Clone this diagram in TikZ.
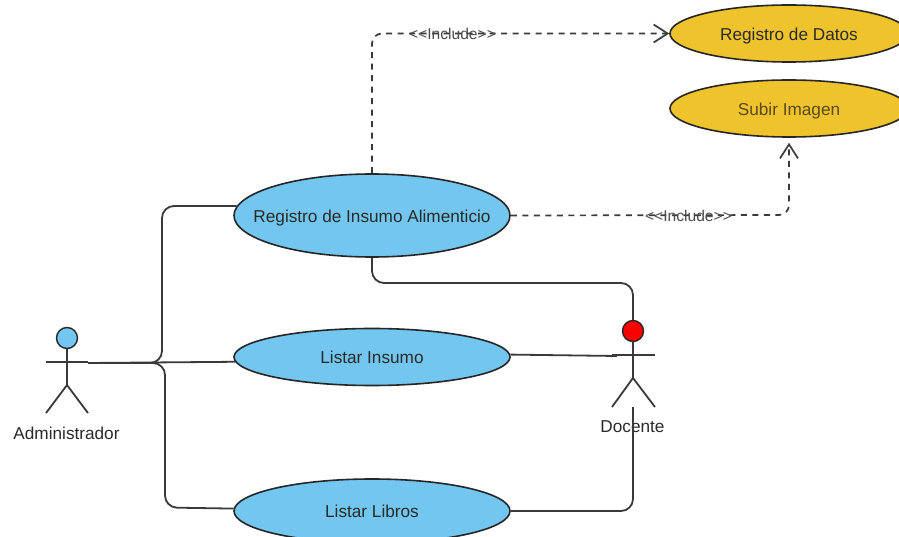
\documentclass[tikz,border=0pt]{standalone}
\usepackage{fontspec}
\setmainfont{Liberation Sans}
\usetikzlibrary{shapes.geometric,arrows.meta}
\definecolor{ucblue}{HTML}{73C6EF}
\definecolor{ucyellow}{HTML}{EEC32C}
\definecolor{lineink}{HTML}{3A3A3A}
\definecolor{textink}{HTML}{2A2A2A}
\definecolor{softink}{HTML}{5A4A20}
\newcommand{\uctext}[1]{\makebox[0pt]{#1}}
\tikzset{
  usecase/.style={ellipse,draw=black!85,line width=1.6pt,inner sep=0pt,minimum width=276pt,text=textink,text height=13.5pt,text depth=0pt,font=\fontsize{17.2}{19}\selectfont},
  bluecase/.style={usecase,fill=ucblue},
  yellowcase/.style={usecase,fill=ucyellow,minimum width=238pt,minimum height=57pt},
  head/.style={circle,draw=black!85,line width=1.4pt,inner sep=0pt,minimum size=21pt},
  limb/.style={draw=lineink,line width=1.8pt},
  assoc/.style={draw=lineink,line width=1.8pt,rounded corners=12pt},
  incl/.style={draw=lineink,line width=1.7pt,dash pattern=on 6pt off 5.5pt,rounded corners=10pt},
  openhead/.style={-{Straight Barb[length=14pt,width=18pt,line width=1.7pt]}},
  incllabel/.style={text=black!70,font=\fontsize{15.6}{17}\selectfont,inner sep=0pt},
  actorlabel/.style={text=textink,font=\fontsize{17.2}{19}\selectfont,inner sep=0pt}
}
\begin{document}
\begin{tikzpicture}[x=1pt,y=-1pt]
\useasboundingbox[fill=white] (0,0) rectangle (899,537);
% use cases
\node[bluecase,minimum height=83pt] (reg) at (372,215.5) {\uctext{Registro de Insumo Alimenticio}};
\node[bluecase,minimum height=57pt] (lins) at (372,357) {\uctext{Listar Insumo}};
\node[bluecase,minimum height=64pt] (llib) at (372,511) {\uctext{Listar Libros}};
\node[yellowcase] (datos) at (789,33.5) {\uctext{Registro de Datos}};
\node[yellowcase,text=softink] (img) at (789,108.5) {\uctext{Subir Imagen}};
% actor Administrador
\node[head,fill=ucblue] (ahead) at (67,338) {};
\coordinate (aarmL) at (46,362);
\coordinate (aarmR) at (88,362);
\coordinate (ahip) at (67,385);
\coordinate (alegL) at (46,413);
\coordinate (alegR) at (88,413);
\draw[limb] (ahead.south) -- (ahip);
\draw[limb] (aarmL) -- (aarmR);
\draw[limb] (alegL) -- (ahip) -- (alegR);
\node[actorlabel] (alabel) at (66.5,433.5) {Administrador};
% actor Docente
\coordinate (darmL) at (612,355);
\coordinate (darmR) at (655,355);
\coordinate (dlink) at (617,356);
\coordinate (dhip) at (633,378);
\coordinate (dlegL) at (612,407);
\coordinate (dlegR) at (655,407);
\node[actorlabel] (dlabel) at (632.5,427) {Docente};
% associations
\coordinate (abus) at (88,363);
\coordinate (bendA) at (162,363);
\coordinate (bendB) at (162,206);
\coordinate (bendC) at (165,363);
\coordinate (bendD) at (165,507.5);
\draw[assoc] (abus) -- (bendA) -- (bendB) -- (reg.176.5);
\draw[assoc] (abus) -- (lins.182.8);
\draw[assoc] (abus) -- (bendC) -- (bendD) -- (llib.179);
\coordinate (bendE) at (372,283);
\coordinate (bendF) at (633,283);
\coordinate (dbot) at (633,407);
\coordinate (bendG) at (633,511);
\node[head,fill=red] (dhead) at (633,331) {};
\draw[assoc] (reg.south) -- (bendE) -- (bendF) -- (dhead.north);
\draw[limb] (dhead.south) -- (dhip);
\draw[limb] (darmL) -- (darmR);
\draw[limb] (dlegL) -- (dhip) -- (dlegR);
\draw[assoc] (lins.1) -- (dlink);
\draw[assoc] (llib.east) -- (bendG) -- (dbot);
% include
\coordinate (incA) at (372,33.5);
\coordinate (incB) at (789,215);
\draw[incl,openhead] (reg.north) -- (incA) -- (datos.west);
\draw[incl,openhead,shorten >=5pt] (reg.east) -- (incB) -- (incB |- img.south);
\node[incllabel] (lab1) at (452.5,33.5) {<{}<Include>{}>};
\node[incllabel] (lab2) at (688.5,216) {<{}<Include>{}>};
\end{tikzpicture}
\end{document}
